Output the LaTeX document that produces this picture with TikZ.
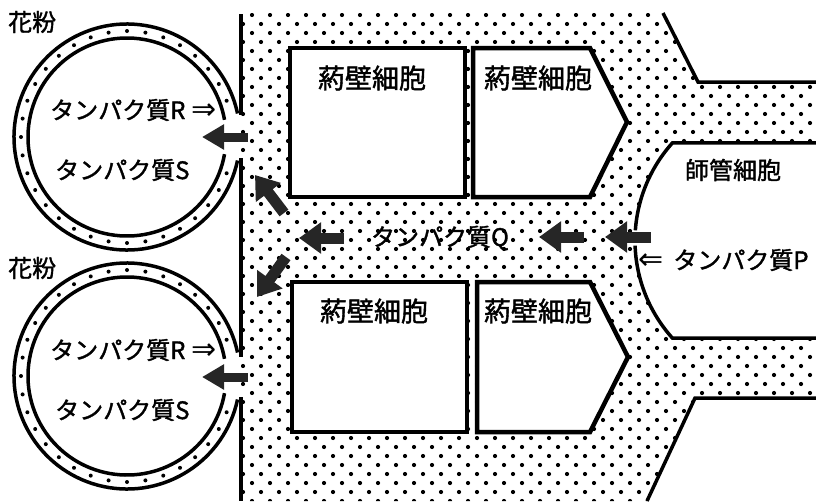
\documentclass[tikz,border=0pt]{standalone}
\usepackage{fontspec}
\setmainfont{Noto Sans CJK JP}[FakeBold=1.5]
\newfontfamily\arrowfont{DejaVu Sans}
\usetikzlibrary{arrows.meta,patterns.meta}

\tikzset{
	membrane/.style={line width=3.5pt},
	cellwall/.style={line width=4.5pt, fill=white, line join=miter},
	flow/.style={line width=11pt, black!85, -{Triangle[length=22pt,width=30pt]}},
	smallflow/.style={line width=9pt, black!85, -{Triangle[length=22pt,width=24pt]}},
	txt/.style={inner sep=0pt, font=\fontsize{24}{28}\selectfont},
	celltxt/.style={inner sep=0pt, font=\fontsize{27}{30}\selectfont},
	stipple/.style={pattern={Dots[distance=18pt,radius=2.1pt]},
		preaction={pattern={Dots[distance=18pt,radius=2.1pt,xshift=9pt,yshift=9pt]}}},
}
\newcommand\dblarrow[1]{{\arrowfont\fontsize{30}{30}\selectfont #1}}

\begin{document}
\begin{tikzpicture}[x=1pt, y=-1pt]
	\useasboundingbox (0,0) rectangle (816,501);
	%tissue
	\path[stipple] (241,13) -- (663,13) -- (698,82) -- (816,82) -- (816,142.8)
		-- ([shift={(781,240.5)}]222:146) arc[start angle=222, end angle=138, radius=146]
		-- (816,338.2) -- (816,398) -- (695,398) -- (647,501) -- (241,501) -- cycle;
	%channels
	\coordinate (phloem centre) at (781,240.5);
	\draw[membrane] (663,13) -- (698,82) -- (816,82);
	\draw[membrane] (816,142.8) -- ([shift={(phloem centre)}]222:146)
		arc[start angle=222, end angle=184, radius=146];
	\draw[membrane] ([shift={(phloem centre)}]178:146)
		arc[start angle=178, end angle=138, radius=146] -- (816,338.2);
	\draw[membrane] (816,398) -- (695,398) -- (647,501);
	%wall
	\draw[membrane] (241,14) -- (241,115) (241,158) -- (241,357) (241,397) -- (241,501);
	
	%cells
	\draw[cellwall] (290,48) rectangle (465,197);
	\draw[cellwall] (473,48) -- (590,48) -- (627,122) -- (590,197) -- (473,197) -- cycle;
	\draw[cellwall] (292,282) rectangle (467,432);
	\draw[cellwall] (477,282) -- (590,282) -- (628,357) -- (590,432) -- (477,432) -- cycle;
	
	%pollen
	\foreach \cy in {137,376} {
		\draw[membrane] (127,\cy) ++(12:113) arc[start angle=12, end angle=348, radius=113];
		\draw[membrane] (127,\cy) ++(10:99) arc[start angle=10, end angle=350, radius=99];
		\foreach \a in {20,30,...,340}
			\fill (127,\cy) ++(\a:106) circle[radius=2];
	}
	
	%arrows
	\draw[smallflow] (248,137) -- (202,137);
	\draw[smallflow] (248,377) -- (202,377);
	\draw[flow] (344,238) -- (299,238);
	\draw[flow] (584,237) -- (539,237);
	\draw[flow] (651,237) -- (605,237);
	\draw[flow] (284,213) -- (255,175);
	\draw[flow] (286,257) -- (257,297);
	
	%labels
	\node[txt, anchor=west] (pollenA) at (8,22) {花粉};
	\node[txt, anchor=west] (pollenB) at (8,268) {花粉};
	\node[txt, anchor=west] (protRa) at (50,110) {タンパク質R\hspace{6pt}\dblarrow{⇒}};
	\node[txt, anchor=west] (protSa) at (55,170) {タンパク質S};
	\node[txt, anchor=west] (protRb) at (50,350) {タンパク質R\hspace{6pt}\dblarrow{⇒}};
	\node[txt, anchor=west] (protSb) at (55,410) {タンパク質S};
	\node[celltxt] (cellA) at (372,78) {葯壁細胞};
	\node[celltxt] (cellB) at (538,78) {葯壁細胞};
	\node[celltxt] (cellC) at (374,311) {葯壁細胞};
	\node[celltxt] (cellD) at (538,311) {葯壁細胞};
	\node[txt] (protQ) at (440,238) {タンパク質Q};
	\node[txt] (phloem) at (733,170) {師管細胞};
	\node[txt, anchor=west] (protP) at (638,260) {\dblarrow{⇐}\hspace{10pt}タンパク質P};
\end{tikzpicture}
\end{document}
